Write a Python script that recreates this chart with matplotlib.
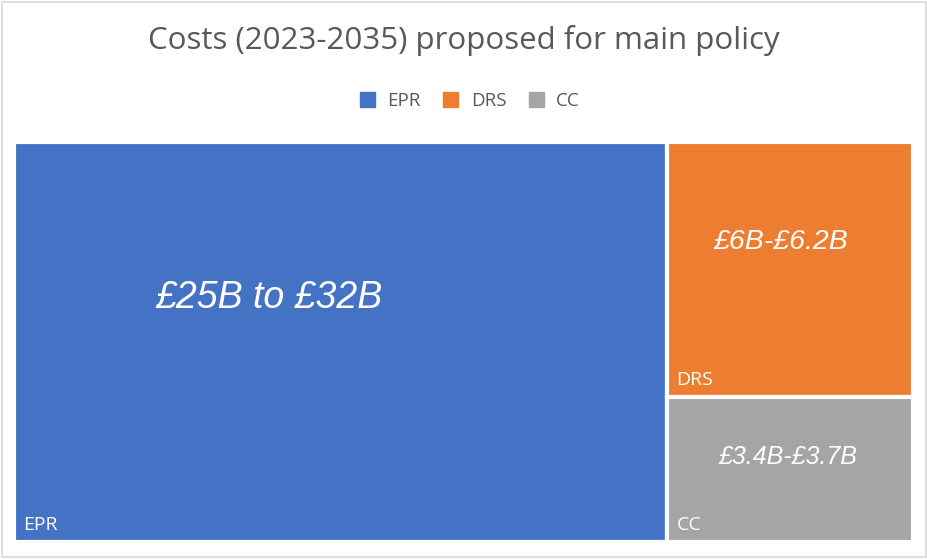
import matplotlib.pyplot as plt
from matplotlib.patches import Rectangle

# values (low end of each range, in £B)
categories = ["EPR", "DRS", "CC"]
values = [25.0, 6.0, 3.4]
value_labels = ["£25B to £32B", "£6B-£6.2B", "£3.4B-£3.7B"]
colors = ["#4472C4", "#ED7D31", "#A5A5A5"]
# where the big italic label sits inside each box (fraction of width, from top)
label_pos = [(0.39, 0.39), (0.46, 0.39), (0.49, 0.41)]
label_size = [27, 20.5, 18]

W, H = 100.0, 100.0


def layout(vals, x, y, w, h):
    """first box takes full height, the rest are stacked in the leftover column"""
    total = sum(vals)
    rects = []
    w0 = w * vals[0] / total
    rects.append((x, y, w0, h))
    rest = vals[1:]
    rt = sum(rest)
    yy = y + h
    for v in rest:
        hh = h * v / rt
        yy -= hh
        rects.append((x + w0, yy, w - w0, hh))
    return rects


fig = plt.figure(figsize=(9.28, 5.59), dpi=100)
fig.patch.set_facecolor("white")
fig.add_artist(Rectangle((0.002, 0.004), 0.996, 0.993, transform=fig.transFigure,
                         fill=False, edgecolor="#D9D9D9", linewidth=1.2))

# pixel box of the plot area: x 14..913, y 142..542
ax = fig.add_axes([14 / 928, 1 - 542 / 559, 899 / 928, 400 / 559])
ax.set_xlim(0, W)
ax.set_ylim(0, H)
ax.axis("off")

for i, (x, y, w, h) in enumerate(layout(values, 0, 0, W, H)):
    p = Rectangle((x, y), w, h, facecolor=colors[i], edgecolor="white", linewidth=3)
    ax.add_patch(p)
    fx, fy = label_pos[i]
    ax.text(x + fx * w, y + h - fy * h, value_labels[i], ha="center", va="center",
            color="white", fontsize=label_size[i], style="italic", family="Liberation Sans")
    ax.text(x + 1.0, y + 3.0, categories[i], ha="left", va="baseline",
            color="white", fontsize=14, family="Open Sans")

fig.text(0.5, 1 - 40 / 559, "Costs (2023-2035) proposed for main policy", ha="center",
         va="center", fontsize=22.5, color="#595959", family="Open Sans")

leg = fig.legend([Rectangle((0, 0), 1, 1, color=c) for c in colors], categories,
                 loc="center", bbox_to_anchor=(470 / 928, 1 - 101 / 559), ncol=3, frameon=False,
                 handlelength=0.8, handleheight=0.8, handletextpad=0.65, columnspacing=1.2,
                 prop={"family": "Open Sans", "size": 13.5})
for t in leg.get_texts():
    t.set_color("#595959")

fig.savefig("out.png", dpi=100)
